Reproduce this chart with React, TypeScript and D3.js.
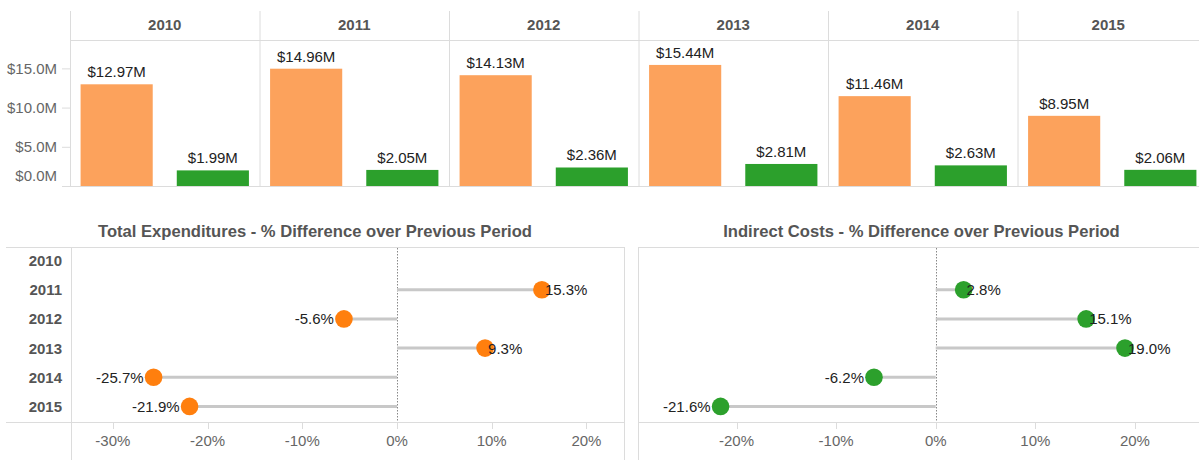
import React from "react";
import * as d3 from "d3";

const years = ["2010", "2011", "2012", "2013", "2014", "2015"];
const seriesKeys = ["Total Expenditures", "Indirect Costs"];
const totalExpenditures = [12.97, 14.96, 14.13, 15.44, 11.46, 8.95];
const indirectCosts = [1.99, 2.05, 2.36, 2.81, 2.63, 2.06];
const totalPctDiff: (number | null)[] = [null, 15.3, -5.6, 9.3, -25.7, -21.9];
const indirectPctDiff: (number | null)[] = [null, 2.8, 15.1, 19.0, -6.2, -21.6];
const moneyTicks = [0, 5, 10, 15];
const pctTicks = [-30, -20, -10, 0, 10, 20];

const W = 1199;
const H = 460;
const FONT = "'Liberation Sans', Arial, sans-serif";
const GRID = "#dcdcdc";
const LABEL = "#666";
const HEAD = "#555";
const BAR_COLORS = ["#fca25c", "#2ca02c"];
const DOT_COLORS = ["#ff7f0e", "#2ca02c"];

function TopChart() {
  const colStep = 189.5;
  const left = 70;
  const x = d3.scaleBand<string>().domain(years).range([left, left + colStep * years.length]);
  const inner = d3.scaleBand<string>().domain(seriesKeys).range([0, colStep]).paddingInner(0.25).paddingOuter(0.11);
  const y = d3.scaleLinear().domain([0, 18.62]).range([186, 40]);
  const values = [totalExpenditures, indirectCosts];
  const fmt = (v: number) => `$${v.toFixed(2)}M`;
  return (
    <g>
      <defs>
        <clipPath id="topclip">
          <rect x={0} y={0} width={W} height={200} />
        </clipPath>
      </defs>
      {/* header line */}
      <line x1={left} x2={W} y1={40.5} y2={40.5} stroke={GRID} />
      {/* column separators */}
      {years.map((yr) => (
        <line key={yr} x1={x(yr)! + 0.5} x2={x(yr)! + 0.5} y1={11} y2={187} stroke={GRID} />
      ))}
      {/* header text */}
      {years.map((yr) => {
        const x0 = x(yr)!;
        const x1 = Math.min(x0 + colStep, W);
        return (
          <text key={yr} x={(x0 + x1) / 2} y={24} textAnchor="middle" dominantBaseline="central"
            fontFamily={FONT} fontWeight="bold" fontSize={15} fill={HEAD}>{yr}</text>
        );
      })}
      {/* y axis ticks */}
      {moneyTicks.map((t) => (
        <g key={t}>
          {t !== 0 && <line x1={62} x2={70} y1={y(t) + 0.5} y2={y(t) + 0.5} stroke={GRID} />}
          <text x={57} y={t === 0 ? y(t) - 11 : y(t)} textAnchor="end" dominantBaseline="central"
            fontFamily={FONT} fontSize={15} fill={LABEL}>{`$${t.toFixed(1)}M`}</text>
        </g>
      ))}
      <g clipPath="url(#topclip)">
        {years.map((yr, i) =>
          seriesKeys.map((s, j) => {
            const v = values[j][i];
            const bx = x(yr)! + inner(s)!;
            const bw = inner.bandwidth();
            return (
              <g key={yr + s}>
                <rect x={bx} y={y(v)} width={bw} height={y(0) - y(v)} fill={BAR_COLORS[j]} />
                <text x={bx + bw / 2} y={y(v) - 7} textAnchor="middle" fontFamily={FONT} fontSize={15} fill="#222">{fmt(v)}</text>
              </g>
            );
          })
        )}
      </g>
      {/* baseline */}
      <line x1={62} x2={W} y1={186.5} y2={186.5} stroke={GRID} />
    </g>
  );
}

interface LolliProps {
  title: string;
  values: (number | null)[];
  color: string;
  panelLeft: number;
  plotLeft: number;
  plotRight: number;
  domain: [number, number];
  showRows: boolean;
}

function Lollipop({ title, values, color, panelLeft, plotLeft, plotRight, domain, showRows }: LolliProps) {
  const top = 247;
  const bottom = 422;
  const x = d3.scaleLinear().domain(domain).range([plotLeft, plotRight]);
  const yb = d3.scaleBand<string>().domain(years).range([top - 1, bottom - 1]);
  const cy = (yr: string) => yb(yr)! + yb.bandwidth() / 2;
  const ticks = pctTicks.filter((t) => t >= domain[0] && t <= domain[1]);
  const titleCenter = showRows ? (panelLeft + plotRight) / 2 : (plotLeft + plotRight + 6) / 2;
  return (
    <g>
      <text x={titleCenter} y={231} textAnchor="middle" dominantBaseline="central" fontFamily={FONT}
        fontWeight="bold" fontSize={16.6} fill={HEAD}>{title}</text>
      <line x1={panelLeft} x2={plotRight} y1={top + 0.5} y2={top + 0.5} stroke={GRID} />
      <line x1={panelLeft} x2={plotRight} y1={bottom + 0.5} y2={bottom + 0.5} stroke={GRID} />
      <line x1={plotLeft + 0.5} x2={plotLeft + 0.5} y1={top} y2={H} stroke={GRID} />
      {plotRight < W && <line x1={plotRight + 0.5} x2={plotRight + 0.5} y1={top} y2={H} stroke={GRID} />}
      {showRows && years.map((yr) => (
        <text key={yr} x={62} y={cy(yr)} textAnchor="end" dominantBaseline="central" fontFamily={FONT}
          fontWeight="bold" fontSize={15} fill={HEAD}>{yr}</text>
      ))}
      {ticks.map((t) => (
        <g key={t}>
          <line x1={Math.round(x(t)) + 0.5} x2={Math.round(x(t)) + 0.5} y1={bottom} y2={bottom + 7} stroke={GRID} />
          <text x={x(t)} y={440} textAnchor="middle" dominantBaseline="central" fontFamily={FONT}
            fontSize={15} fill={LABEL}>{`${t}%`}</text>
        </g>
      ))}
      <line x1={Math.round(x(0)) + 0.5} x2={Math.round(x(0)) + 0.5} y1={top + 1} y2={bottom} stroke="#888"
        strokeDasharray="1.5,1.5" />
      {years.map((yr, i) => {
        const v = values[i];
        if (v === null) return null;
        const c = cy(yr);
        const cx = x(v);
        return (
          <g key={yr}>
            <line x1={x(0)} x2={cx} y1={c} y2={c} stroke="#c8c8c8" strokeWidth={3} />
            <circle cx={cx} cy={c} r={8.8} fill={color} />
            <text x={v >= 0 ? cx + 3 : cx - 10} y={c} textAnchor={v >= 0 ? "start" : "end"} dominantBaseline="central"
              fontFamily={FONT} fontSize={15} fill="#222">{`${v.toFixed(1)}%`}</text>
          </g>
        );
      })}
    </g>
  );
}

export default function App() {
  return (
    <svg width={W} height={H} style={{ position: "absolute", left: 0, top: 0, background: "#fff" }}>
      <rect x={0} y={0} width={W} height={H} fill="#fff" />
      <TopChart />
      <Lollipop title="Total Expenditures - % Difference over Previous Period" values={totalPctDiff}
        color={DOT_COLORS[0]} panelLeft={6} plotLeft={71} plotRight={624} domain={[-34.42, 23.97]} showRows={true} />
      <Lollipop title="Indirect Costs - % Difference over Previous Period" values={indirectPctDiff}
        color={DOT_COLORS[1]} panelLeft={638} plotLeft={638} plotRight={W} domain={[-29.89, 26.43]} showRows={false} />
    </svg>
  );
}
